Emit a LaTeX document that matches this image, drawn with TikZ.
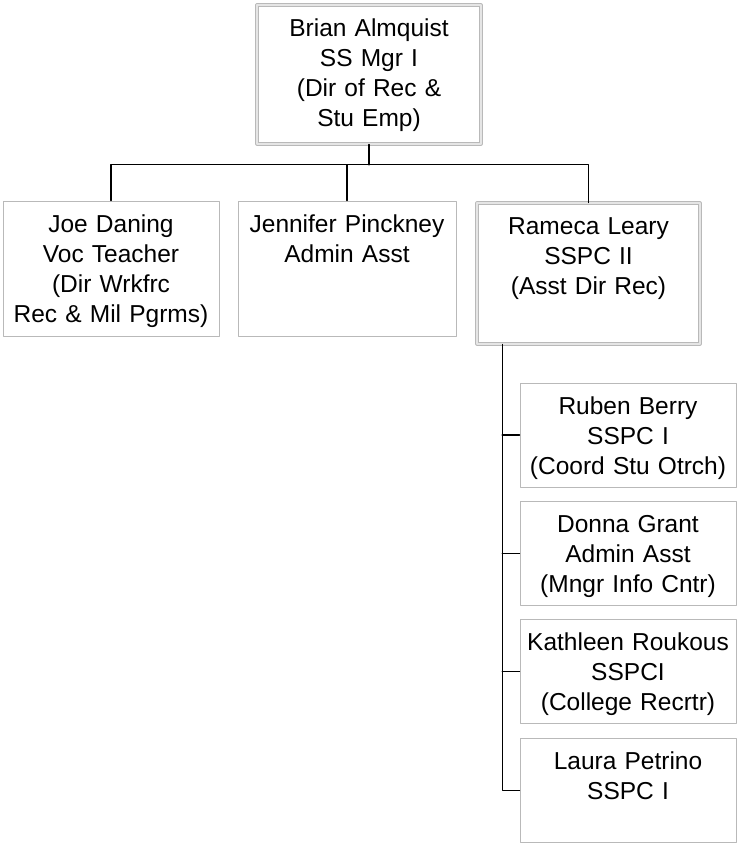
\documentclass[tikz,border=0pt]{standalone}
\usepackage{fontspec}
\setmainfont{Liberation Sans}
\begin{document}
\begin{tikzpicture}[x=1pt, y=-1pt, line join=round, line cap=round,
		font=\fontsize{24.5}{30}\selectfont,
		unit/.style={draw=gray!55, line width=0.8pt, fill=white, inner sep=0pt, align=center, text height=31pt},
		head/.style={unit, double=gray!20, double distance=1.6pt},
		sub/.style={unit, text width=216pt, text depth=73pt},
		link/.style={black, line width=1.1pt}]
		\useasboundingbox (0,0) rectangle (737,844);
		%\draw[color=gray!50,dashed] (0,0) grid[step=50] (737,844);
		\node[head, text width=224pt, text depth=108pt] (brian) at (369,74.5) {Brian Almquist\\SS Mgr I\\(Dir of Rec \&\\Stu Emp)};
		\node[unit, text width=216pt, text depth=104pt] (joe) at (111,268.5) {Joe Daning\\Voc Teacher\\(Dir Wrkfrc\\Rec \& Mil Pgrms)};
		\node[unit, text width=218pt, text depth=104pt] (jennifer) at (347,268.5) {Jennifer Pinckney\\Admin Asst};
		\node[head, text width=223pt, text depth=110pt] (rameca) at (588.5,273.5) {Rameca Leary\\SSPC II\\(Asst Dir Rec)};
		\node[sub] (ruben) at (628,435) {Ruben Berry\\SSPC I\\(Coord Stu Otrch)};
		\node[sub] (donna) at (628,553.5) {Donna Grant\\Admin Asst\\(Mngr Info Cntr)};
		\node[sub] (kathleen) at (628,671.5) {Kathleen Roukous\\SSPCI\\(College Recrtr)};
		\node[sub] (laura) at (628,790.5) {Laura Petrino\\SSPC I};
		\draw[link] (brian.south) -- ++(0,20.5) coordinate (bus);
		\draw[link] (joe.north) |- (bus) -| (rameca.north);
		\draw[link] (jennifer.north) -- (jennifer.north |- bus);
		\coordinate (spine) at ([xshift=25.5pt]rameca.south west);
		\draw[link] (spine) |- (laura.west);
		\draw[link] (ruben.west) -- (ruben.west -| spine);
		\draw[link] (donna.west) -- (donna.west -| spine);
		\draw[link] (kathleen.west) -- (kathleen.west -| spine);
	\end{tikzpicture}
\end{document}
